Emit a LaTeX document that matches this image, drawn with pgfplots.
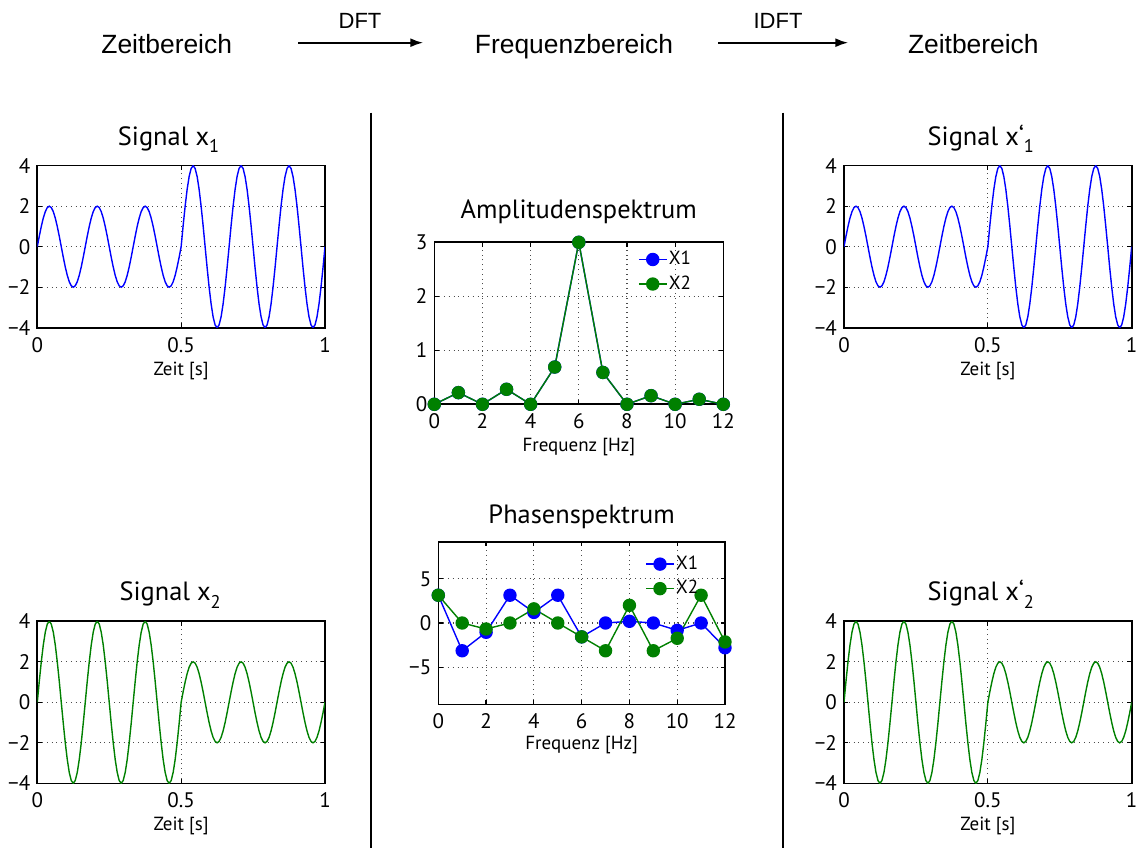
\documentclass[border=0pt]{standalone}
\usepackage{fontspec}
\setmainfont{PT Sans}
\newfontfamily\hdrfont{Liberation Sans}
\usepackage{pgfplots}
\pgfplotsset{compat=1.18}
\usepackage{pgfplotstable}
\usetikzlibrary{arrows.meta}

\definecolor{mblue}{rgb}{0,0,1}
\definecolor{mgreen}{rgb}{0,0.5,0}

\newcommand\sub[1]{\raisebox{-3.7pt}{\fontsize{9.2}{9.2}\selectfont #1}}

\pgfplotstableread{
t x1 x2
0 0 0
0.0069 0.5176 1.0353
0.0139 1 2
0.0208 1.4142 2.8284
0.0278 1.7321 3.4641
0.0347 1.9319 3.8637
0.0417 2 4
0.0486 1.9319 3.8637
0.0556 1.7321 3.4641
0.0625 1.4142 2.8284
0.0694 1 2
0.0764 0.5176 1.0353
0.0833 0 0
0.0903 -0.5176 -1.0353
0.0972 -1 -2
0.1042 -1.4142 -2.8284
0.1111 -1.7321 -3.4641
0.1181 -1.9319 -3.8637
0.125 -2 -4
0.1319 -1.9319 -3.8637
0.1389 -1.7321 -3.4641
0.1458 -1.4142 -2.8284
0.1528 -1 -2
0.1597 -0.5176 -1.0353
0.1667 0 0
0.1736 0.5176 1.0353
0.1806 1 2
0.1875 1.4142 2.8284
0.1944 1.7321 3.4641
0.2014 1.9319 3.8637
0.2083 2 4
0.2153 1.9319 3.8637
0.2222 1.7321 3.4641
0.2292 1.4142 2.8284
0.2361 1 2
0.2431 0.5176 1.0353
0.25 0 0
0.2569 -0.5176 -1.0353
0.2639 -1 -2
0.2708 -1.4142 -2.8284
0.2778 -1.7321 -3.4641
0.2847 -1.9319 -3.8637
0.2917 -2 -4
0.2986 -1.9319 -3.8637
0.3056 -1.7321 -3.4641
0.3125 -1.4142 -2.8284
0.3194 -1 -2
0.3264 -0.5176 -1.0353
0.3333 0 0
0.3403 0.5176 1.0353
0.3472 1 2
0.3542 1.4142 2.8284
0.3611 1.7321 3.4641
0.3681 1.9319 3.8637
0.375 2 4
0.3819 1.9319 3.8637
0.3889 1.7321 3.4641
0.3958 1.4142 2.8284
0.4028 1 2
0.4097 0.5176 1.0353
0.4167 0 0
0.4236 -0.5176 -1.0353
0.4306 -1 -2
0.4375 -1.4142 -2.8284
0.4444 -1.7321 -3.4641
0.4514 -1.9319 -3.8637
0.4583 -2 -4
0.4653 -1.9319 -3.8637
0.4722 -1.7321 -3.4641
0.4792 -1.4142 -2.8284
0.4861 -1 -2
0.4931 -0.5176 -1.0353
0.5 0 0
0.5069 1.0353 0.5176
0.5139 2 1
0.5208 2.8284 1.4142
0.5278 3.4641 1.7321
0.5347 3.8637 1.9319
0.5417 4 2
0.5486 3.8637 1.9319
0.5556 3.4641 1.7321
0.5625 2.8284 1.4142
0.5694 2 1
0.5764 1.0353 0.5176
0.5833 0 0
0.5903 -1.0353 -0.5176
0.5972 -2 -1
0.6042 -2.8284 -1.4142
0.6111 -3.4641 -1.7321
0.6181 -3.8637 -1.9319
0.625 -4 -2
0.6319 -3.8637 -1.9319
0.6389 -3.4641 -1.7321
0.6458 -2.8284 -1.4142
0.6528 -2 -1
0.6597 -1.0353 -0.5176
0.6667 0 0
0.6736 1.0353 0.5176
0.6806 2 1
0.6875 2.8284 1.4142
0.6944 3.4641 1.7321
0.7014 3.8637 1.9319
0.7083 4 2
0.7153 3.8637 1.9319
0.7222 3.4641 1.7321
0.7292 2.8284 1.4142
0.7361 2 1
0.7431 1.0353 0.5176
0.75 0 0
0.7569 -1.0353 -0.5176
0.7639 -2 -1
0.7708 -2.8284 -1.4142
0.7778 -3.4641 -1.7321
0.7847 -3.8637 -1.9319
0.7917 -4 -2
0.7986 -3.8637 -1.9319
0.8056 -3.4641 -1.7321
0.8125 -2.8284 -1.4142
0.8194 -2 -1
0.8264 -1.0353 -0.5176
0.8333 0 0
0.8403 1.0353 0.5176
0.8472 2 1
0.8542 2.8284 1.4142
0.8611 3.4641 1.7321
0.8681 3.8637 1.9319
0.875 4 2
0.8819 3.8637 1.9319
0.8889 3.4641 1.7321
0.8958 2.8284 1.4142
0.9028 2 1
0.9097 1.0353 0.5176
0.9167 0 0
0.9236 -1.0353 -0.5176
0.9306 -2 -1
0.9375 -2.8284 -1.4142
0.9444 -3.4641 -1.7321
0.9514 -3.8637 -1.9319
0.9583 -4 -2
0.9653 -3.8637 -1.9319
0.9722 -3.4641 -1.7321
0.9792 -2.8284 -1.4142
0.9861 -2 -1
0.9931 -1.0353 -0.5176
1 0 0
}\sig

\pgfplotstableread{
f a1 a2 p1 p2
0 0 0 3.1416 3.1416
1 0.216 0.216 -3.1416 0
2 0 0 -1.05 -0.68
3 0.278 0.278 3.1416 0
4 0 0 1.2 1.6
5 0.69 0.69 3.1416 0
6 3 3 -1.5708 -1.5708
7 0.59 0.59 0 -3.1416
8 0 0 0.19 2.0
9 0.16 0.16 0 -3.1416
10 0 0 -0.83 -1.73
11 0.093 0.093 0 3.1416
12 0 0 -2.8 -2.14
}\spec

\pgfplotsset{
  mbase/.style={
    scale only axis, anchor=south west,
    axis line style={line width=0.8pt},
    tick align=inside,
    major tick length=2.2pt,
    every tick/.style={black, line width=0.6pt},
    grid=major,
    major grid style={dotted, line width=0.55pt, black!70},
    tick label style={font=\fontsize{10.5}{12}\selectfont},
    xticklabel style={yshift=-1.3pt},
    label style={font=\fontsize{9.5}{11}\selectfont},
    title style={font=\fontsize{13.2}{15}\selectfont, at={(axis description cs:0.5,1)}, anchor=base},
    legend style={font=\fontsize{9.5}{11}\selectfont, draw=none, fill=none, inner sep=0pt, row sep=0pt, cells={anchor=west}, nodes={inner xsep=0.8pt}},
    legend image code/.code={\draw[mark repeat=2,mark phase=2,##1] plot coordinates {(0pt,0pt) (6.95pt,0pt) (13.9pt,0pt)};},
  },
  sigax/.style={mbase, width=143.85pt, height=81pt,
    xmin=0, xmax=1, ymin=-4, ymax=4,
    xtick={0,0.5,1}, xticklabels={0,0.5,1},
    ytick={-4,-2,0,2,4}, yticklabels={−4,−2,0,2,4},
    xlabel={Zeit [s]},
    xlabel style={at={(axis description cs:0.5,0)}, anchor=base, yshift=-23.8pt},
    title style={yshift=4.2pt}},
  specax/.style={mbase, clip=false,
    xmin=0, xmax=12, xtick={0,2,4,6,8,10,12}, xticklabels={0,2,4,6,8,10,12},
    xlabel={Frequenz [Hz]}},
  sigline/.style={line width=0.7pt},
  bl/.style={mblue, line width=0.7pt, mark=*, mark size=3pt, mark options={fill=mblue, draw=mblue}},
  gr/.style={mgreen, line width=0.7pt, mark=*, mark size=3pt, mark options={fill=mgreen, draw=mgreen}},
}

\begin{document}
\begin{tikzpicture}[x=1pt,y=1pt]
\useasboundingbox (0,0) rectangle (568.5,424);

% header
\node[anchor=base, font=\hdrfont\fontsize{13.2}{15}\selectfont, inner sep=0pt] at (83.35,397.3) {Zeitbereich};
\node[anchor=base, font=\hdrfont\fontsize{13.2}{15}\selectfont, inner sep=0pt] at (287,397.3) {Frequenzbereich};
\node[anchor=base, font=\hdrfont\fontsize{13.2}{15}\selectfont, inner sep=0pt] at (486.65,397.3) {Zeitbereich};
\node[anchor=base, font=\hdrfont\fontsize{11}{13}\selectfont, inner sep=0pt] at (180,409.8) {DFT};
\node[anchor=base, font=\hdrfont\fontsize{11}{13}\selectfont, inner sep=0pt] at (389,409.8) {IDFT};
\draw[line width=1pt, -{Latex[length=6.5pt,width=4.5pt]}] (149.15,402.65) -- (211.65,402.65);
\draw[line width=1pt, -{Latex[length=6.5pt,width=4.5pt]}] (359.15,402.65) -- (424.15,402.65);

% separators
\draw[line width=1pt] (185.5,367.65) -- (185.5,0);
\draw[line width=1pt] (391.5,367.65) -- (391.5,0);

% Signal x1
\begin{axis}[sigax, at={(18.65pt,260.15pt)}, title={Signal x\sub{1}}, title style={xshift=-6.3pt}]
\addplot[mblue, sigline] table[x=t, y=x1] {\sig};
\end{axis}

% Signal x2
\begin{axis}[sigax, at={(18.65pt,32.35pt)}, title={Signal x\sub{2}}, title style={xshift=-5.5pt}]
\addplot[mgreen, sigline] table[x=t, y=x2] {\sig};
\end{axis}

% Signal x'1
\begin{axis}[sigax, at={(422pt,260.15pt)}, title={Signal x‘\sub{1}}, title style={xshift=-3.5pt}]
\addplot[mblue, sigline] table[x=t, y=x1] {\sig};
\end{axis}

% Signal x'2
\begin{axis}[sigax, at={(422pt,32.35pt)}, title={Signal x‘\sub{2}}, title style={xshift=-3.5pt}]
\addplot[mgreen, sigline] table[x=t, y=x2] {\sig};
\end{axis}

% Amplitude
\begin{axis}[specax, at={(217.15pt,221.85pt)}, width=144.5pt, height=81pt,
  ymin=0, ymax=3, ytick={0,1,2,3}, yticklabels={0,1,2,3},
  title={Amplitudenspektrum}, title style={yshift=6pt},
  xlabel style={at={(axis description cs:0.5,0)}, anchor=base, yshift=-23.7pt},
  legend style={at={(axis description cs:0.704,0.972)}, anchor=north west}]
\addplot[bl] table[x=f, y=a1] {\spec};
\addlegendentry{X1}
\addplot[gr] table[x=f, y=a2] {\spec};
\addlegendentry{X2}
\end{axis}

% Phase
\begin{axis}[specax, at={(219.15pt,71.85pt)}, width=143.35pt, height=81.3pt,
  ymin=-9.2, ymax=9.2, ytick={-5,0,5}, yticklabels={−5,0,5},
  title={Phasenspektrum}, title style={yshift=3.2pt},
  xlabel style={at={(axis description cs:0.5,0)}, anchor=base, yshift=-22.5pt},
  legend style={at={(axis description cs:0.721,0.94)}, anchor=north west}]
\addplot[bl] table[x=f, y=p1] {\spec};
\addlegendentry{X1}
\addplot[gr] table[x=f, y=p2] {\spec};
\addlegendentry{X2}
\end{axis}
\end{tikzpicture}
\end{document}
